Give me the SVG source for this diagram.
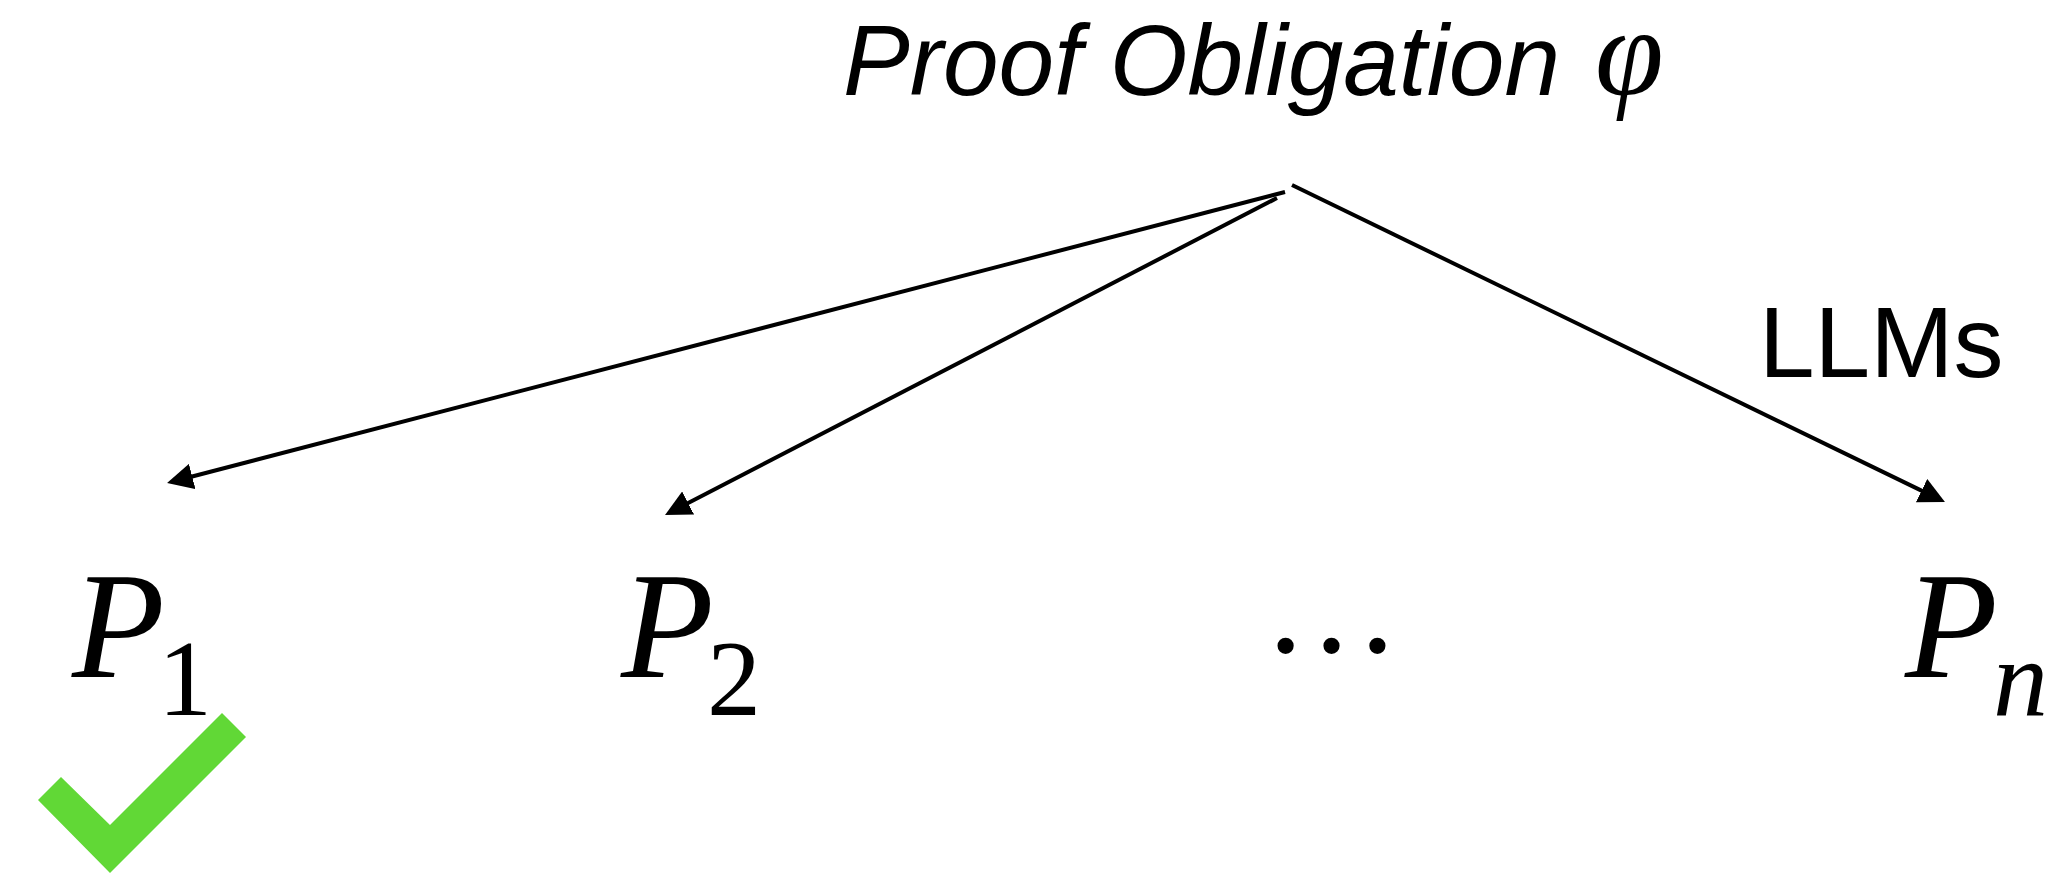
<svg xmlns="http://www.w3.org/2000/svg" width="2050" height="873" viewBox="0 0 2050 873">
  <style>
    .title { font-family: "Liberation Sans", Arial, sans-serif; font-style: italic; font-size: 100px; fill: #000; }
    .sans { font-family: "Liberation Sans", Arial, sans-serif; font-size: 100px; fill: #000; }
    .mathP { font-family: "Liberation Serif", "Times New Roman", serif; font-style: italic; font-size: 152px; fill: #000; }
    .sub { font-family: "Liberation Serif", "Times New Roman", serif; font-size: 108px; fill: #000; }
    .subi { font-family: "Liberation Serif", "Times New Roman", serif; font-style: italic; font-size: 110px; fill: #000; }
    .phi { font-family: "Liberation Serif", "Times New Roman", serif; font-style: italic; font-size: 124px; fill: #000; }
    .conn { stroke: #000; stroke-width: 4; fill: none; marker-end: url(#head); }
  </style>
  <defs>
    <marker id="head" markerUnits="userSpaceOnUse" markerWidth="26" markerHeight="26" viewBox="0 0 25 25" refX="1" refY="12.5" orient="auto">
      <path d="M0,0 L25,12.5 L0,25 z" fill="#000"/>
    </marker>
  </defs>
  <rect width="2050" height="873" fill="#fff"/>

  <g id="obligation">
    <text class="title" x="843" y="95">Proof Obligation</text>
    <text class="phi" x="1595" y="94">φ</text>
  </g>

  <g id="llms-label">
    <text class="sans" x="1759" y="377">LLMs</text>
  </g>

  <g id="connectors">
    <line class="conn" x1="1285" y1="192" x2="191.2" y2="476.7"/>
    <line class="conn" x1="1277" y1="198" x2="687.2" y2="503.5"/>
    <line class="conn" x1="1292" y1="185" x2="1922.5" y2="491.1"/>
  </g>

  <g id="p1">
    <text class="mathP" x="72" y="677">P</text>
    <text class="sub" x="158" y="715">1</text>
  </g>

  <g id="p2">
    <text class="mathP" x="621" y="677">P</text>
    <text class="sub" x="707" y="715">2</text>
  </g>

  <g id="dots">
    <text class="mathP" x="1263" y="652" style="font-style:normal;font-size:137px">…</text>
  </g>

  <g id="pn">
    <text class="mathP" x="1905" y="677">P</text>
    <text class="subi" x="1993" y="716">n</text>
  </g>

  <g id="check">
    <polygon points="38,800 61,777 110,825 222,713 246,737 110,873" fill="#61D836"/>
  </g>
</svg>
